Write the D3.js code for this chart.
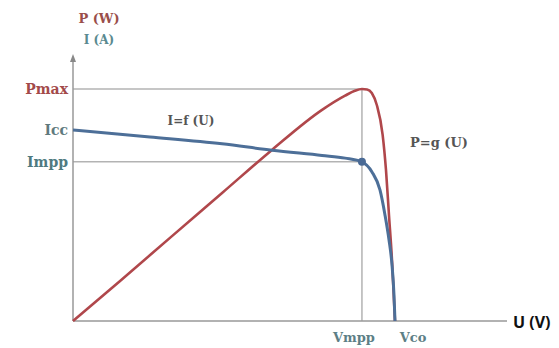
<!DOCTYPE html>
<html>
<head>
<meta charset="utf-8">
<script src="https://cdn.jsdelivr.net/npm/d3@7"></script>
<style>
  body { margin: 0; background: #fff; }
  svg text { font-family: "DejaVu Serif", "Liberation Serif", serif; font-weight: bold; }
</style>
</head>
<body>
<div id="chart"></div>
<script>
// U (V) samples and the two characteristic curves
const uP = [0, 2.82, 5.93, 8.93, 11.92, 14.92, 16.3, 16.89, 17.31, 17.62, 17.9, 18.2, 18.55, 18.75, 18.93, 19.11, 19.23, 19.29];
const pValues = [0, 9.0, 19.1, 28.8, 38.5, 47.5, 50.7, 51.8, 52.2, 52.1, 51.3, 48.6, 41.9, 34.0, 23.8, 13.7, 4.7, 0];

const uI = [0, 4.61, 8.93, 11.92, 14.92, 16.3, 17.31, 17.91, 18.39, 18.69, 18.93, 19.11, 19.23, 19.29];
const iValues = [3.6, 3.47, 3.34, 3.22, 3.12, 3.07, 3.0, 2.81, 2.47, 2.0, 1.53, 1.06, 0.49, 0];

const Vmpp = 17.31, Vco = 19.29;
const Pmax = 52.2, Icc = 3.6, Impp = 3.0;

const yLabels = ["Pmax", "Icc", "Impp"];
const xLabels = ["Vmpp", "Vco"];

const width = 559, height = 348;
const x0 = 73, y0 = 321;

const svg = d3.select("#chart")
    .append("svg")
    .attr("width", width)
    .attr("height", height);

const x = d3.scaleLinear().domain([0, 26]).range([x0, 507]);
const yP = d3.scaleLinear().domain([0, 52.2]).range([y0, 89]);
const yI = d3.scaleLinear().domain([0, 3.6]).range([y0, 130]);

// guide lines
const guideColor = "#b3b3b3";
svg.append("line")
    .attr("x1", x0).attr("x2", x(Vmpp))
    .attr("y1", yP(Pmax)).attr("y2", yP(Pmax))
    .attr("stroke", guideColor).attr("stroke-width", 1.5);
svg.append("line")
    .attr("x1", x0).attr("x2", x(Vmpp))
    .attr("y1", yI(Impp)).attr("y2", yI(Impp))
    .attr("stroke", guideColor).attr("stroke-width", 1.5);
svg.append("line")
    .attr("x1", x(Vmpp)).attr("x2", x(Vmpp))
    .attr("y1", yP(Pmax)).attr("y2", y0)
    .attr("stroke", guideColor).attr("stroke-width", 1.5);

// axes
svg.append("line")
    .attr("x1", x0).attr("x2", x(26))
    .attr("y1", y0).attr("y2", y0)
    .attr("stroke", "#999").attr("stroke-width", 1.5);
svg.append("line")
    .attr("x1", x0).attr("x2", x0)
    .attr("y1", y0).attr("y2", 57)
    .attr("stroke", "#999").attr("stroke-width", 1.5);
svg.append("path")
    .attr("d", `M${x0 - 3},${62} L${x0},${54} L${x0 + 3},${62} Z`)
    .attr("fill", "#888");

// curves
const lineP = d3.line()
    .x((d, i) => x(uP[i]))
    .y(d => yP(d))
    .curve(d3.curveMonotoneX);
const lineI = d3.line()
    .x((d, i) => x(uI[i]))
    .y(d => yI(d))
    .curve(d3.curveMonotoneX);

svg.append("path")
    .attr("d", lineP(pValues))
    .attr("fill", "none")
    .attr("stroke", "#b0474b")
    .attr("stroke-width", 2.6);

svg.append("path")
    .attr("d", lineI(iValues))
    .attr("fill", "none")
    .attr("stroke", "#4d6f98")
    .attr("stroke-width", 3);

svg.append("circle")
    .attr("cx", x(Vmpp)).attr("cy", yI(Impp))
    .attr("r", 4)
    .attr("fill", "#4a6a95");

// y labels
const yPos = [yP(Pmax), yI(Icc), yI(Impp)];
const yColors = ["#a34a4a", "#5f7a7e", "#4f7a80"];
svg.selectAll(".ylab")
    .data(yLabels)
    .enter().append("text")
    .attr("class", "ylab")
    .attr("x", 68)
    .attr("y", (d, i) => yPos[i] + 5)
    .attr("text-anchor", "end")
    .attr("font-size", 14)
    .attr("fill", (d, i) => yColors[i])
    .text(d => d);

// x labels
const xPos = [x(Vmpp) - 8, x(Vco) + 18];
svg.selectAll(".xlab")
    .data(xLabels)
    .enter().append("text")
    .attr("class", "xlab")
    .attr("x", (d, i) => xPos[i])
    .attr("y", 342)
    .attr("text-anchor", "middle")
    .attr("font-size", 13)
    .attr("fill", "#5d7f86")
    .text(d => d);

// axis titles
svg.append("text")
    .attr("x", 99).attr("y", 23)
    .attr("text-anchor", "middle")
    .attr("font-size", 13)
    .attr("fill", "#9a4e4a")
    .text("P (W)");
svg.append("text")
    .attr("x", 99).attr("y", 44)
    .attr("text-anchor", "middle")
    .attr("font-size", 12)
    .attr("fill", "#5a8a90")
    .text("I (A)");
svg.append("text")
    .attr("x", 513).attr("y", 328)
    .attr("font-size", 16)
    .style("font-family", "'Open Sans', 'DejaVu Sans', sans-serif")
    .attr("fill", "#111")
    .text("U (V)");

// curve names
svg.append("text")
    .attr("x", 191).attr("y", 125)
    .attr("text-anchor", "middle")
    .attr("font-size", 12)
    .attr("fill", "#555")
    .text("I=f (U)");
svg.append("text")
    .attr("x", 439).attr("y", 147)
    .attr("text-anchor", "middle")
    .attr("font-size", 13)
    .attr("fill", "#555")
    .text("P=g (U)");
</script>
</body>
</html>
